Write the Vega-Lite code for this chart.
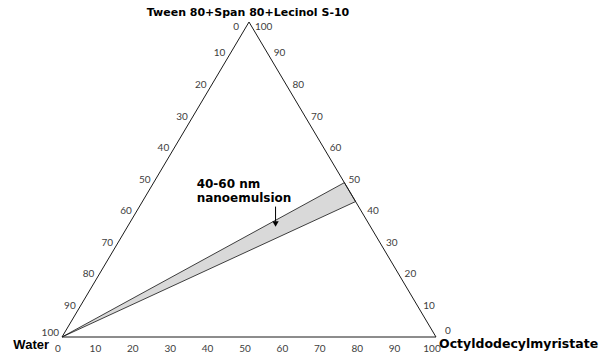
{
  "$schema": "https://vega.github.io/schema/vega-lite/v6.json",
  "width": 599,
  "height": 355,
  "autosize": "none",
  "padding": 0,
  "background": "white",
  "config": {"view": {"stroke": null}},
  "datasets": {
    "frame": [
      {"i": 0, "oil": 0, "surf": 0},
      {"i": 1, "oil": 100, "surf": 0},
      {"i": 2, "oil": 0, "surf": 100},
      {"i": 3, "oil": 0, "surf": 0}
    ],
    "band": [
      {"i": 0, "oil": 0, "surf": 0},
      {"i": 1, "oil": 51, "surf": 49},
      {"i": 2, "oil": 57, "surf": 43},
      {"i": 3, "oil": 0, "surf": 0}
    ],
    "ticks": [
      {"side": "bottom", "label": 0, "oil": 0, "surf": 0},
      {"side": "bottom", "label": 10, "oil": 10, "surf": 0},
      {"side": "bottom", "label": 20, "oil": 20, "surf": 0},
      {"side": "bottom", "label": 30, "oil": 30, "surf": 0},
      {"side": "bottom", "label": 40, "oil": 40, "surf": 0},
      {"side": "bottom", "label": 50, "oil": 50, "surf": 0},
      {"side": "bottom", "label": 60, "oil": 60, "surf": 0},
      {"side": "bottom", "label": 70, "oil": 70, "surf": 0},
      {"side": "bottom", "label": 80, "oil": 80, "surf": 0},
      {"side": "bottom", "label": 90, "oil": 90, "surf": 0},
      {"side": "bottom", "label": 100, "oil": 100, "surf": 0},
      {"side": "left", "label": 0, "oil": 0, "surf": 100},
      {"side": "left", "label": 10, "oil": 0, "surf": 90},
      {"side": "left", "label": 20, "oil": 0, "surf": 80},
      {"side": "left", "label": 30, "oil": 0, "surf": 70},
      {"side": "left", "label": 40, "oil": 0, "surf": 60},
      {"side": "left", "label": 50, "oil": 0, "surf": 50},
      {"side": "left", "label": 60, "oil": 0, "surf": 40},
      {"side": "left", "label": 70, "oil": 0, "surf": 30},
      {"side": "left", "label": 80, "oil": 0, "surf": 20},
      {"side": "left", "label": 90, "oil": 0, "surf": 10},
      {"side": "left", "label": 100, "oil": 0, "surf": 0},
      {"side": "right", "label": 100, "oil": 0, "surf": 100},
      {"side": "right", "label": 90, "oil": 10, "surf": 90},
      {"side": "right", "label": 80, "oil": 20, "surf": 80},
      {"side": "right", "label": 70, "oil": 30, "surf": 70},
      {"side": "right", "label": 60, "oil": 40, "surf": 60},
      {"side": "right", "label": 50, "oil": 50, "surf": 50},
      {"side": "right", "label": 40, "oil": 60, "surf": 40},
      {"side": "right", "label": 30, "oil": 70, "surf": 30},
      {"side": "right", "label": 20, "oil": 80, "surf": 20},
      {"side": "right", "label": 10, "oil": 90, "surf": 10},
      {"side": "right", "label": 0, "oil": 100, "surf": 0}
    ],
    "arrow": [
      {"i": 0, "px": 57.1, "py": 41.4},
      {"i": 1, "px": 57.1, "py": 36.6}
    ],
    "arrowhead": [{"px": 57.1, "py": 35.9}],
    "note": [{"px": 36.0, "py": 47.3, "text": "40-60 nm\nnanoemulsion"}],
    "vertices": [
      {"name": "surf", "title": "Tween 80+Span 80+Lecinol S-10", "oil": 0, "surf": 100},
      {"name": "water", "title": "Water", "oil": 0, "surf": 0},
      {"name": "oil", "title": "Octyldodecylmyristate", "oil": 100, "surf": 0}
    ]
  },
  "encoding": {
    "x": {"field": "px", "type": "quantitative", "axis": null,
          "scale": {"domain": [-16.578, 143.583], "nice": false, "zero": false}},
    "y": {"field": "py", "type": "quantitative", "axis": null,
          "scale": {"domain": [-5.714, 106.984], "nice": false, "zero": false}}
  },
  "layer": [
    {
      "data": {"name": "band"},
      "transform": [
        {"calculate": "datum.oil + datum.surf / 2", "as": "px"},
        {"calculate": "datum.surf", "as": "py"}
      ],
      "mark": {"type": "line", "fill": "#d9d9d9", "stroke": "#111111", "strokeWidth": 0.8},
      "encoding": {"order": {"field": "i", "type": "quantitative"}}
    },
    {
      "data": {"name": "frame"},
      "transform": [
        {"calculate": "datum.oil + datum.surf / 2", "as": "px"},
        {"calculate": "datum.surf", "as": "py"}
      ],
      "mark": {"type": "line", "stroke": "#1a1a1a", "strokeWidth": 1},
      "encoding": {"order": {"field": "i", "type": "quantitative"}}
    },
    {
      "data": {"name": "ticks"},
      "transform": [
        {"filter": "datum.side === 'bottom'"},
        {"calculate": "datum.oil + datum.surf / 2", "as": "px"},
        {"calculate": "datum.surf", "as": "py"}
      ],
      "mark": {"type": "text", "font": "Lato", "fontSize": 10, "fill": "#404040",
               "align": "center", "baseline": "middle", "dx": -4, "dy": 12},
      "encoding": {"text": {"field": "label", "type": "quantitative"}}
    },
    {
      "data": {"name": "ticks"},
      "transform": [
        {"filter": "datum.side === 'left' && datum.surf > 0 && datum.surf < 100"},
        {"calculate": "datum.oil + datum.surf / 2", "as": "px"},
        {"calculate": "datum.surf", "as": "py"}
      ],
      "mark": {"type": "text", "font": "Lato", "fontSize": 10, "fill": "#404040",
               "align": "right", "baseline": "middle", "dx": -5, "dy": 0},
      "encoding": {"text": {"field": "label", "type": "quantitative"}}
    },
    {
      "data": {"name": "ticks"},
      "transform": [
        {"filter": "datum.side === 'left' && datum.surf === 100"},
        {"calculate": "datum.oil + datum.surf / 2", "as": "px"},
        {"calculate": "datum.surf", "as": "py"}
      ],
      "mark": {"type": "text", "font": "Lato", "fontSize": 10, "fill": "#404040",
               "align": "right", "baseline": "middle", "dx": -10, "dy": 5},
      "encoding": {"text": {"field": "label", "type": "quantitative"}}
    },
    {
      "data": {"name": "ticks"},
      "transform": [
        {"filter": "datum.side === 'left' && datum.surf === 0"},
        {"calculate": "datum.oil + datum.surf / 2", "as": "px"},
        {"calculate": "datum.surf", "as": "py"}
      ],
      "mark": {"type": "text", "font": "Lato", "fontSize": 10, "fill": "#404040",
               "align": "right", "baseline": "middle", "dx": -3, "dy": -4},
      "encoding": {"text": {"field": "label", "type": "quantitative"}}
    },
    {
      "data": {"name": "ticks"},
      "transform": [
        {"filter": "datum.side === 'right' && datum.surf > 0 && datum.surf < 100"},
        {"calculate": "datum.oil + datum.surf / 2", "as": "px"},
        {"calculate": "datum.surf", "as": "py"}
      ],
      "mark": {"type": "text", "font": "Lato", "fontSize": 10, "fill": "#404040",
               "align": "left", "baseline": "middle", "dx": 6, "dy": 0},
      "encoding": {"text": {"field": "label", "type": "quantitative"}}
    },
    {
      "data": {"name": "ticks"},
      "transform": [
        {"filter": "datum.side === 'right' && datum.surf === 100"},
        {"calculate": "datum.oil + datum.surf / 2", "as": "px"},
        {"calculate": "datum.surf", "as": "py"}
      ],
      "mark": {"type": "text", "font": "Lato", "fontSize": 10, "fill": "#404040",
               "align": "left", "baseline": "middle", "dx": 6, "dy": 5},
      "encoding": {"text": {"field": "label", "type": "quantitative"}}
    },
    {
      "data": {"name": "ticks"},
      "transform": [
        {"filter": "datum.side === 'right' && datum.surf === 0"},
        {"calculate": "datum.oil + datum.surf / 2", "as": "px"},
        {"calculate": "datum.surf", "as": "py"}
      ],
      "mark": {"type": "text", "font": "Lato", "fontSize": 10, "fill": "#404040",
               "align": "left", "baseline": "middle", "dx": 9, "dy": -6},
      "encoding": {"text": {"field": "label", "type": "quantitative"}}
    },
    {
      "data": {"name": "arrow"},
      "mark": {"type": "line", "stroke": "#000000", "strokeWidth": 1},
      "encoding": {"order": {"field": "i", "type": "quantitative"}}
    },
    {
      "data": {"name": "arrowhead"},
      "mark": {"type": "point", "shape": "triangle-down", "filled": true,
               "fill": "#000000", "stroke": null, "size": 40, "opacity": 1}
    },
    {
      "data": {"name": "note"},
      "mark": {"type": "text", "font": "DejaVu Sans", "fontWeight": "bold", "fontSize": 12,
               "fill": "#000000", "align": "left", "baseline": "alphabetic",
               "lineBreak": "\n", "lineHeight": 14},
      "encoding": {"text": {"field": "text", "type": "nominal"}}
    },
    {
      "data": {"name": "vertices"},
      "transform": [
        {"filter": "datum.name === 'surf'"},
        {"calculate": "datum.oil + datum.surf / 2", "as": "px"},
        {"calculate": "datum.surf", "as": "py"}
      ],
      "mark": {"type": "text", "font": "DejaVu Sans", "fontWeight": "bold", "fontSize": 11,
               "fill": "#000000", "align": "center", "baseline": "alphabetic", "dx": -1, "dy": -6},
      "encoding": {"text": {"field": "title", "type": "nominal"}}
    },
    {
      "data": {"name": "vertices"},
      "transform": [
        {"filter": "datum.name === 'water'"},
        {"calculate": "datum.oil + datum.surf / 2", "as": "px"},
        {"calculate": "datum.surf", "as": "py"}
      ],
      "mark": {"type": "text", "font": "Liberation Sans", "fontWeight": "bold", "fontSize": 13,
               "fill": "#000000", "align": "right", "baseline": "alphabetic", "dx": -13, "dy": 12},
      "encoding": {"text": {"field": "title", "type": "nominal"}}
    },
    {
      "data": {"name": "vertices"},
      "transform": [
        {"filter": "datum.name === 'oil'"},
        {"calculate": "datum.oil + datum.surf / 2", "as": "px"},
        {"calculate": "datum.surf", "as": "py"}
      ],
      "mark": {"type": "text", "font": "DejaVu Sans", "fontWeight": "bold", "fontSize": 12.5,
               "fill": "#000000", "align": "left", "baseline": "alphabetic", "dx": 3, "dy": 11},
      "encoding": {"text": {"field": "title", "type": "nominal"}}
    }
  ]
}
